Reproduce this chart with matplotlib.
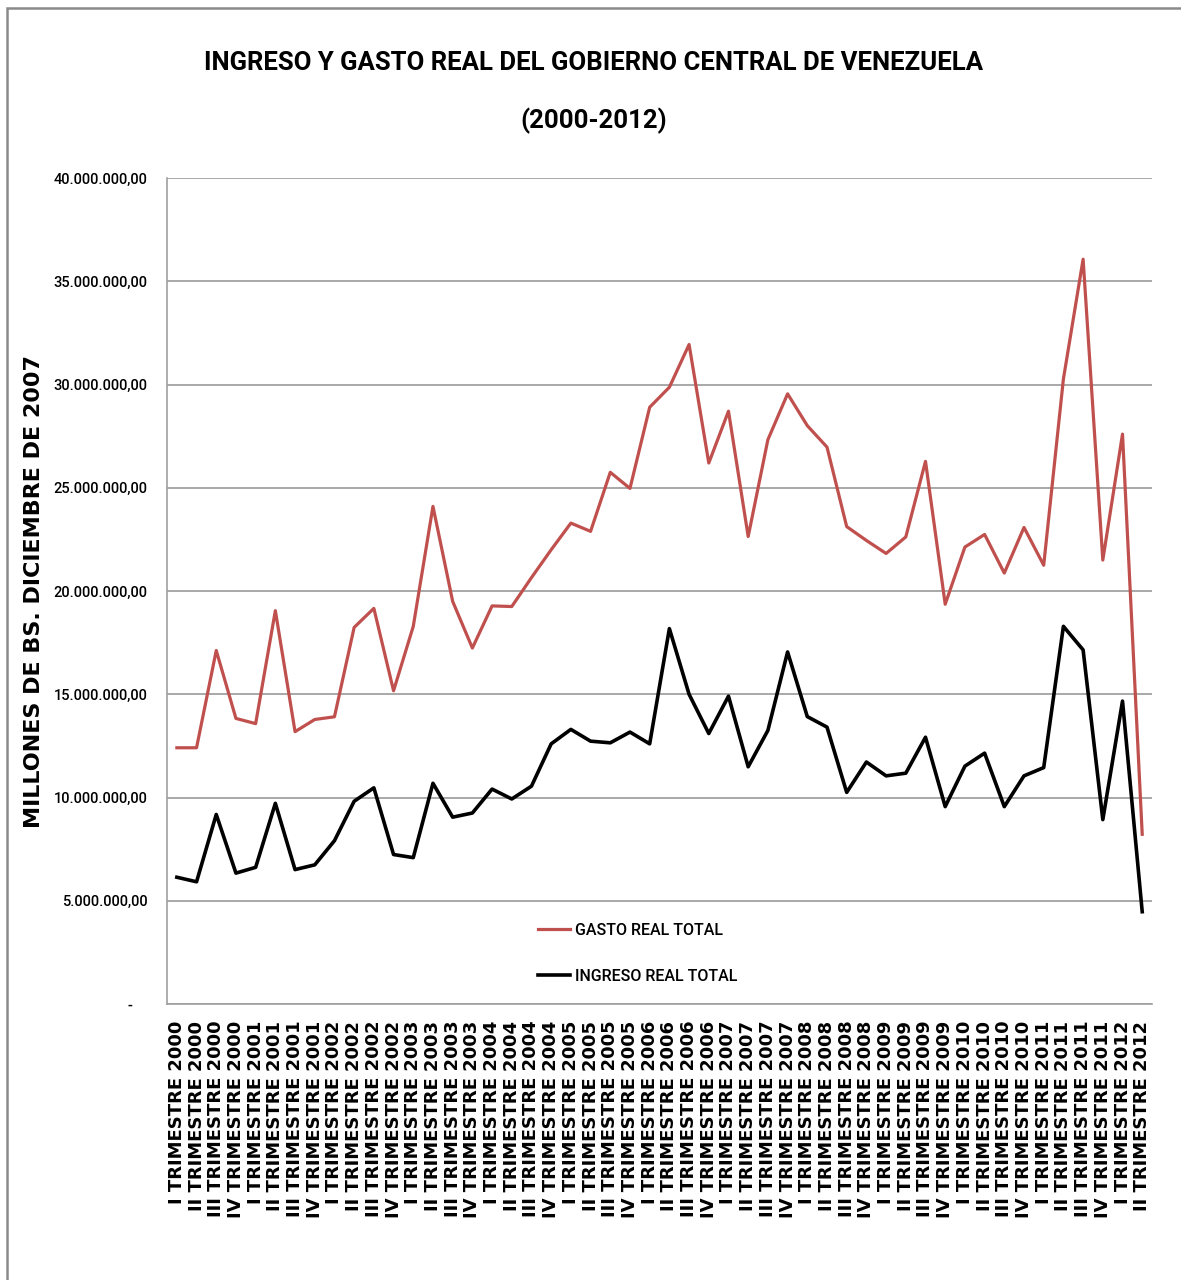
import matplotlib.pyplot as plt
from matplotlib.patches import Rectangle
from matplotlib.ticker import FuncFormatter, MultipleLocator

# Trimestres desde I 2000 hasta II 2012
romanos = ['I', 'II', 'III', 'IV']
anios = list(range(2000, 2013))
trimestres = [f'{r} TRIMESTRE {a}' for a in anios for r in romanos][:50]

# Millones de Bs. de diciembre 2007
gasto = [12.41, 12.41, 17.12, 13.83, 13.58, 19.05, 13.19, 13.78, 13.91, 18.24,
         19.16, 15.17, 18.29, 24.10, 19.50, 17.24, 19.28, 19.25, 20.65, 22.00,
         23.29, 22.89, 25.75, 24.97, 28.90, 29.87, 31.94, 26.20, 28.71, 22.64,
         27.33, 29.55, 28.01, 26.97, 23.12, 22.45, 21.82, 22.62, 26.28, 19.36,
         22.13, 22.74, 20.87, 23.08, 21.25, 30.27, 36.07, 21.50, 27.60, 8.22]
ingreso = [6.14, 5.92, 9.18, 6.34, 6.62, 9.72, 6.51, 6.74, 7.91, 9.82,
           10.47, 7.24, 7.09, 10.69, 9.05, 9.25, 10.41, 9.93, 10.55, 12.60,
           13.30, 12.73, 12.65, 13.17, 12.60, 18.18, 15.00, 13.10, 14.91, 11.49,
           13.25, 17.05, 13.92, 13.41, 10.25, 11.72, 11.05, 11.18, 12.92, 9.56,
           11.52, 12.15, 9.56, 11.05, 11.45, 18.29, 17.15, 8.93, 14.67, 4.47]
gasto = [v * 1e6 for v in gasto]
ingreso = [v * 1e6 for v in ingreso]

narrow = ['Roboto', 'DejaVu Sans']

fig = plt.figure(figsize=(11.81, 12.8), dpi=100)
ax = fig.add_axes([0.1414, 0.2156, 0.8341, 0.6453])

x = list(range(len(trimestres)))
ax.plot(x, gasto, color='#C0504D', lw=2.3, label='GASTO REAL TOTAL')
ax.plot(x, ingreso, color='black', lw=2.6, label='INGRESO REAL TOTAL')

ax.set_xlim(-0.5, len(trimestres) - 0.5)
ax.set_ylim(0, 40e6)
ax.yaxis.set_major_locator(MultipleLocator(5e6))


def fmt(v, pos):
    if v == 0:
        return '-    '
    s = f'{v:,.2f}'
    return s.replace(',', '#').replace('.', ',').replace('#', '.')


ax.yaxis.set_major_formatter(FuncFormatter(fmt))
ax.grid(axis='y', color='#9a9a9a', lw=1.2)
ax.set_axisbelow(True)
for s in ['top', 'right']:
    ax.spines[s].set_visible(False)
for s in ['left', 'bottom']:
    ax.spines[s].set_color('#a0a0a0')
    ax.spines[s].set_linewidth(1.2)
ax.tick_params(length=0)
ax.tick_params(axis='y', pad=14)
ax.tick_params(axis='x', pad=12)

for lab in ax.get_yticklabels():
    lab.set_family(narrow)
    lab.set_fontsize(10.5)
    lab.set_fontweight('medium')

ax.set_xticks(x)
ax.set_xticklabels(trimestres, rotation=90, fontsize=13, fontweight='bold',
                   va='top', ha='center')

ax.set_ylabel('MILLONES DE BS. DICIEMBRE DE 2007', fontsize=16,
              fontweight='bold')
ax.yaxis.set_label_coords(-0.125, 0.5)

ax.legend(loc='upper left', bbox_to_anchor=(0.362, 0.116), frameon=False,
          prop={'family': narrow, 'size': 11.5, 'weight': 'medium'},
          handlelength=2.0, handletextpad=0.3, labelspacing=1.95)

fig.suptitle('INGRESO Y GASTO REAL DEL GOBIERNO CENTRAL DE VENEZUELA\n(2000-2012)',
             x=0.503, y=0.960, fontsize=18.5, fontweight='bold', family=narrow,
             linespacing=2.6)

fig.add_artist(Rectangle((7 / 1181, -0.1), 1.2, 1.1 - 8 / 1280, fill=False,
                         edgecolor='#8a8a8a', lw=1.8, transform=fig.transFigure))

fig.savefig('out.png', dpi=100)
